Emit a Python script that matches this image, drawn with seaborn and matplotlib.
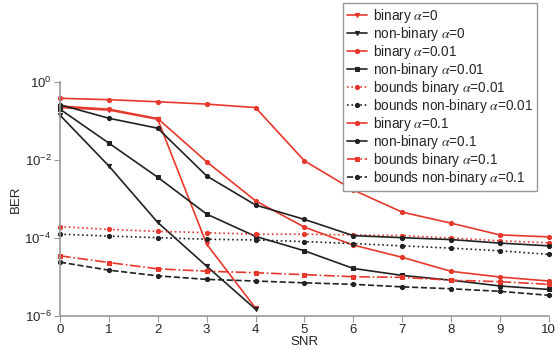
import numpy as np
import pandas as pd
import matplotlib
matplotlib.use("Agg")
import matplotlib.pyplot as plt
import seaborn as sns

# SNR points
snr = list(range(11))
snr_a0 = list(range(5))

# BER values
binary_a0 = [0.22, 0.19, 0.11, 7e-5, 1.6e-6]
nonbinary_a0 = [0.14, 7e-3, 2.5e-4, 1.9e-5, 1.5e-6]
binary_a001 = [0.24, 0.2, 0.115, 9e-3, 9e-4, 1.9e-4, 6.6e-5, 3.2e-5, 1.4e-5, 1.0e-5, 7.9e-6]
nonbinary_a001 = [0.2, 2.7e-2, 3.6e-3, 4.1e-4, 1.1e-4, 4.7e-5, 1.66e-5, 1.1e-5, 8.3e-6, 5.9e-6, 4.8e-6]
bounds_binary_a001 = [1.95e-4, 1.66e-4, 1.48e-4, 1.37e-4, 1.25e-4, 1.25e-4, 1.2e-4, 1.15e-4, 1.0e-4, 8.5e-5, 7.5e-5]
bounds_nonbinary_a001 = [1.25e-4, 1.12e-4, 1.02e-4, 9.3e-5, 8.9e-5, 8.1e-5, 7.2e-5, 6.3e-5, 5.5e-5, 4.7e-5, 3.8e-5]
binary_a01 = [0.38, 0.35, 0.31, 0.27, 0.22, 9.5e-3, 1.7e-3, 4.6e-4, 2.4e-4, 1.2e-4, 1.07e-4]
nonbinary_a01 = [0.26, 0.117, 0.065, 3.9e-3, 7e-4, 3e-4, 1.15e-4, 1.02e-4, 9.1e-5, 7.4e-5, 6.3e-5]
bounds_binary_a01 = [3.5e-5, 2.35e-5, 1.62e-5, 1.41e-5, 1.29e-5, 1.15e-5, 1.02e-5, 9.8e-6, 8.3e-6, 7.6e-6, 6.5e-6]
bounds_nonbinary_a01 = [2.4e-5, 1.5e-5, 1.07e-5, 8.7e-6, 7.9e-6, 7.1e-6, 6.5e-6, 5.6e-6, 5.0e-6, 4.3e-6, 3.4e-6]

RED = "#e8382c"
BLK = "#222222"
A = "$\\alpha$"

series = [
    ("binary " + A + "=0", snr_a0, binary_a0, RED, "-", "v"),
    ("non-binary " + A + "=0", snr_a0, nonbinary_a0, BLK, "-", "v"),
    ("binary " + A + "=0.01", snr, binary_a001, RED, "-", "o"),
    ("non-binary " + A + "=0.01", snr, nonbinary_a001, BLK, "-", "s"),
    ("bounds binary " + A + "=0.01", snr, bounds_binary_a001, RED, ":", "o"),
    ("bounds non-binary " + A + "=0.01", snr, bounds_nonbinary_a001, BLK, ":", "o"),
    ("binary " + A + "=0.1", snr, binary_a01, RED, "-", "o"),
    ("non-binary " + A + "=0.1", snr, nonbinary_a01, BLK, "-", "o"),
    ("bounds binary " + A + "=0.1", snr, bounds_binary_a01, RED, "-.", "s"),
    ("bounds non-binary " + A + "=0.1", snr, bounds_nonbinary_a01, BLK, "--", "o"),
]

sns.set_style("white")
plt.rcParams["font.family"] = ["Liberation Sans", "DejaVu Sans"]
plt.rcParams["mathtext.fontset"] = "stix"

fig = plt.figure(figsize=(5.58, 3.5), dpi=100)
ax = fig.add_axes([0.1075, 0.097, 0.876, 0.669])

for label, xs, ys, color, ls, mk in series:
    df = pd.DataFrame({"SNR": xs, "BER": ys})
    sns.lineplot(data=df, x="SNR", y="BER", ax=ax, color=color, linestyle=ls,
                 marker=mk, markersize=3, markeredgecolor=color, linewidth=1.2,
                 label=label, clip_on=False)

ax.set_yscale("log")
ax.set_ylim(1e-6, 1)
ax.set_xlim(0, 10)
ax.set_xticks(snr)
ax.set_yticks([1e-6, 1e-4, 1e-2, 1])
ax.minorticks_off()
ax.tick_params(axis="both", labelsize=9.5, length=4, color="#999999", direction="out",
               left=True, bottom=True, pad=2)
for side in ["top", "right"]:
    ax.spines[side].set_visible(False)
for side in ["left", "bottom"]:
    ax.spines[side].set_color("#999999")
    ax.spines[side].set_linewidth(1.2)
ax.set_xlabel("SNR", fontsize=9.5, labelpad=0)
ax.set_ylabel("BER", fontsize=9.5, labelpad=2)

handles, labels = ax.get_legend_handles_labels()
ax.get_legend().remove()
fig.legend(handles, labels, loc="upper right", bbox_to_anchor=(0.962, 0.992),
           fontsize=9.8, frameon=True, fancybox=False,
           edgecolor="#999999", framealpha=1, handlelength=1.5, handletextpad=0.4,
           labelspacing=0.0, borderpad=0.3, borderaxespad=0)

fig.savefig("out.png", dpi=100)
